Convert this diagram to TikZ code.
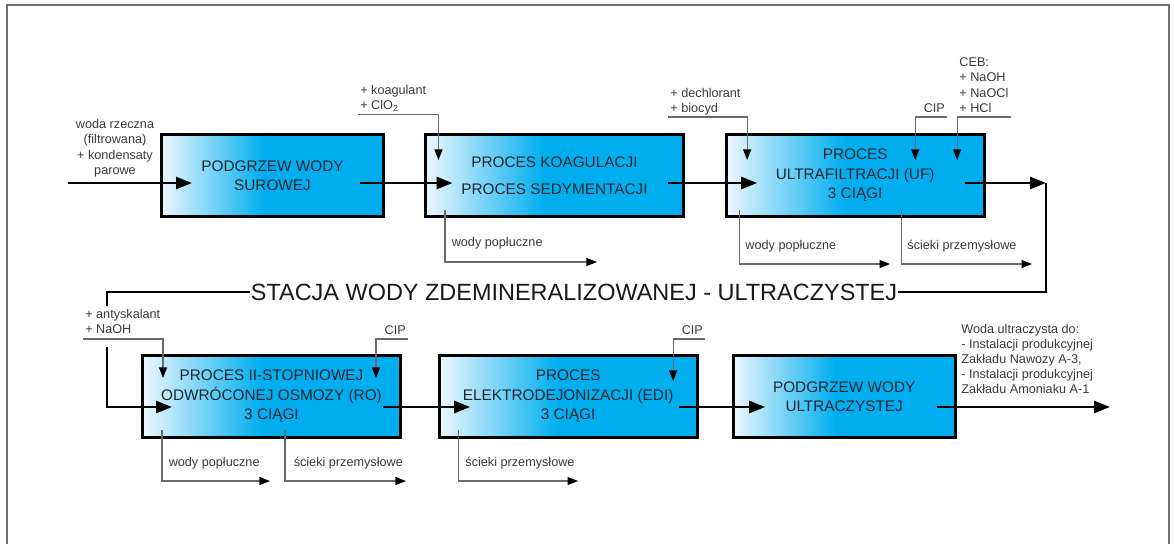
\documentclass[tikz,border=0pt]{standalone}
\usepackage{fontspec}
\setmainfont{Liberation Sans}
\usetikzlibrary{arrows.meta,positioning,calc}
\definecolor{swcyan}{HTML}{00AEEF}
\definecolor{swlight}{HTML}{EEF8FD}
\definecolor{swtext}{HTML}{1B2631}
\definecolor{swgrey}{HTML}{6A6A6A}
\definecolor{swlabel}{HTML}{3A3A3A}
\definecolor{swframe}{HTML}{707070}
\pgfdeclarehorizontalshading{swshade}{100bp}{color(0bp)=(swlight); color(25bp)=(swlight); color(48bp)=(swcyan); color(100bp)=(swcyan)}

\begin{document}
\begin{tikzpicture}[
  x=0.75pt, y=-0.75pt,
  proc/.style={draw=black, line width=2pt, shade, shading=swshade, outer sep=0pt,
               font=\fontsize{11.5}{14.5}\selectfont, align=center, text=swtext,
               minimum width=193.5pt, minimum height=61.5pt, inner sep=2pt},
  procshort/.style={proc, minimum width=166.5pt},
  flow/.style={-{Triangle[length=12pt,width=9pt]}, line width=2pt, black},
  feed/.style={-{Triangle[length=8pt,width=6pt,color=black]}, line width=1pt, swgrey},
  chem/.style={font=\fontsize{9.5}{11.3}\selectfont, text=swlabel, align=left,
               inner xsep=1.5pt, inner ysep=2pt, text depth=1.5pt},
  banner/.style={font=\fontsize{17.6}{20}\selectfont, text=black!90, fill=white,
                 inner xsep=1pt, inner ysep=1pt},
  frame/.style={draw=swframe, line width=1.5pt},
]
\useasboundingbox (0,0) rectangle (1174,544);
\draw[frame] (7,544) -- (7,4.5) -- (1169,4.5) -- (1169,544);

%% ---- Row 1: raw water to ultrafiltration ----
\node[procshort] (heat1) at (272.5,175.5) {PODGRZEW WODY\\SUROWEJ};
\node[proc, right=31.5pt of heat1] (coag) {PROCES KOAGULACJI\\[6pt]PROCES SEDYMENTACJI};
\node[proc, right=32pt of coag] (uf) {PROCES\\ULTRAFILTRACJI (UF)\\3 CIĄGI};

%% ---- Row 2: RO, EDI and final heating ----
\node[proc] (ro) at (271.5,396.5) {PROCES II-STOPNIOWEJ\\ODWRÓCONEJ OSMOZY (RO)\\3 CIĄGI};
\node[proc, right=29pt of ro] (edi) {PROCES\\ELEKTRODEJONIZACJI (EDI)\\3 CIĄGI};
\node[procshort, right=27pt of edi] (heat2) {PODGRZEW WODY\\ULTRACZYSTEJ};

%% ---- Main water flow ----
\coordinate (inlet) at (68,183);
\coordinate (turn1) at (1046,183);
\coordinate (turn2) at (107,292);
\coordinate (outlet) at (1110,407);

\draw[flow] (inlet) -- ($(heat1.west)+(30.5,7.5)$);
\draw[flow] ($(heat1.east)+(-23.5,7.5)$) -- ($(coag.west)+(27,7.5)$);
\draw[flow] ($(coag.east)+(-15.5,7.5)$) -- ($(uf.west)+(31,7.5)$);
\draw[flow] ($(uf.east)+(-19,7.5)$) -- (turn1);
\draw[flow] (turn1) |- (turn2) |- ($(ro.west)+(29.5,10.5)$);
\draw[flow] ($(ro.east)+(-17.5,10.5)$) -- ($(edi.west)+(31,10.5)$);
\draw[flow] ($(edi.east)+(-18,10.5)$) -- ($(heat2.west)+(32,10.5)$);
\draw[flow] ($(heat2.east)+(-18,10.5)$) -- (outlet);

\node[banner] (station) at (574,292) {STACJA WODY ZDEMINERALIZOWANEJ - ULTRACZYSTEJ};

%% ---- Inlet and outlet labels ----
\node[chem, align=center, anchor=south] (river) at (115,179)
  {woda rzeczna\\(filtrowana)\\+ kondensaty\\parowe};
\node[chem, anchor=north west] (dest) at (959,321)
  {Woda ultraczysta do:\\- Instalacji produkcyjnej\\Zakładu Nawozy A-3,\\- Instalacji produkcyjnej\\Zakładu Amoniaku A-1};

%% ---- Dosing, row 1 ----
\node[chem, anchor=south west] (koag) at ($(coag.north west)+(-67.5,-20)$) {+ koagulant\\+ ClO\textsubscript{2}};
\draw[feed] (koag.south west) -| ($(coag.north west)+(13,25.5)$);
\node[chem, anchor=south west] (dech) at ($(uf.north west)+(-58,-17.5)$) {+ dechlorant\\+ biocyd};
\draw[feed] (dech.south west) -| ($(uf.north west)+(21,25.5)$);
\node[chem, anchor=south east] (cipuf) at ($(uf.north east)+(-37,-17.5)$) {CIP};
\draw[feed] (cipuf.south east) -| ($(uf.north east)+(-69,25.5)$);
\node[chem, anchor=south west] (ceb) at ($(uf.north east)+(-27,-17.5)$) {CEB:\\+ NaOH\\+ NaOCl\\+ HCl};
\draw[feed] (ceb.south east) -| ($(uf.north east)+(-27,25.5)$);

%% ---- Dosing, row 2 ----
\node[chem, fill=white, text depth=8pt, anchor=south west] (anty) at ($(ro.north west)+(-59.5,-8.5)$) {+ antyskalant\\+ NaOH};
\draw[feed] ($(anty.south west)+(0,-8)$) -| ($(ro.north west)+(20.5,22.5)$);
\node[chem, anchor=south east] (cipro) at ($(ro.north east)+(7.5,-16.5)$) {CIP};
\draw[feed] (cipro.south east) -| ($(ro.north east)+(-24.5,22.5)$);
\node[chem, anchor=south east] (cipedi) at ($(edi.north east)+(8,-16.5)$) {CIP};
\draw[feed] (cipedi.south east) -| ($(edi.north east)+(-24,25.5)$);

%% ---- Waste streams ----
\draw[feed] ($(coag.south west)+(19.5,-6.5)$) |- ($(coag.south west)+(171.5,45.5)$);
\node[chem, anchor=west] (rinse1) at ($(coag.south west)+(24,26.5)$) {wody popłuczne};
\draw[feed] ($(uf.south west)+(13,-6.5)$) |- ($(uf.south west)+(164,47.5)$);
\node[chem, anchor=west] (rinse2) at ($(uf.south west)+(17,29)$) {wody popłuczne};
\draw[feed] ($(uf.south west)+(175,-6.5)$) |- ($(uf.south west)+(306,47.5)$);
\node[chem, anchor=west] (waste1) at ($(uf.south west)+(179,29)$) {ścieki przemysłowe};
\draw[feed] ($(ro.south west)+(19.5,-7.5)$) |- ($(ro.south west)+(127.5,43.5)$);
\node[chem, anchor=west] (rinse3) at ($(ro.south west)+(24,25.5)$) {wody popłuczne};
\draw[feed] ($(ro.south west)+(142.5,-7.5)$) |- ($(ro.south west)+(263.5,43.5)$);
\node[chem, anchor=west] (waste2) at ($(ro.south west)+(149,25.5)$) {ścieki przemysłowe};
\draw[feed] ($(edi.south west)+(19,-7.5)$) |- ($(edi.south west)+(139,43.5)$);
\node[chem, anchor=west] (waste3) at ($(edi.south west)+(24,25.5)$) {ścieki przemysłowe};

\end{tikzpicture}
\end{document}
